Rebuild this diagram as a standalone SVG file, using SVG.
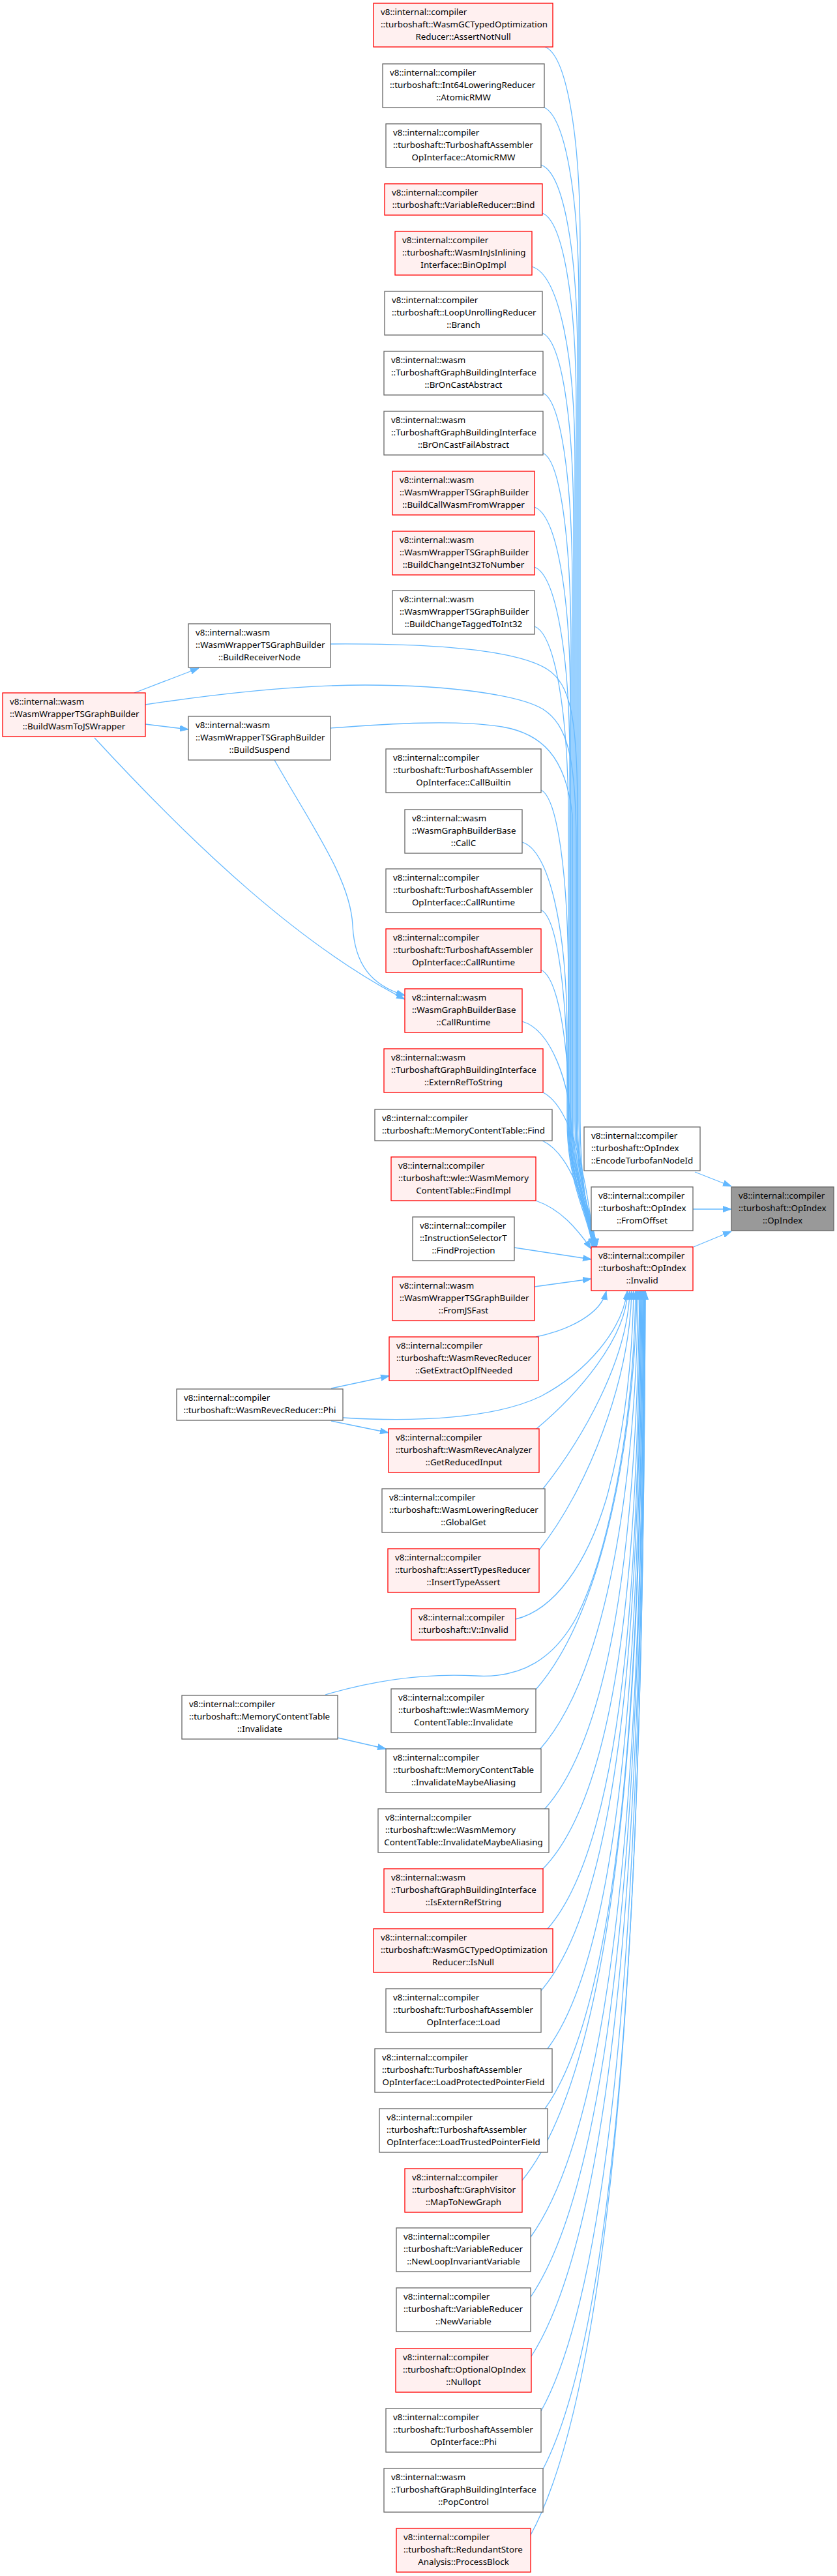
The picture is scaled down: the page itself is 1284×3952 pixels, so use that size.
<svg xmlns="http://www.w3.org/2000/svg" width="1284" height="3952" viewBox="0 0 1284 3952">
<style>
.w{fill:#ffffff;stroke:#666666;stroke-width:1.3}
.r{fill:#fff0f0;stroke:#ff0000;stroke-width:1.3}
.g{fill:#999999;stroke:#666666;stroke-width:1.3}
text{font-family:"Noto Sans","DejaVu Sans","Liberation Sans",sans-serif;font-size:13.33px;fill:#000}
.c{text-anchor:middle}
.e path{fill:none;stroke:#63b8ff;stroke-width:1.3;marker-end:url(#a)}
</style>
<defs>
<marker id="a" viewBox="0 0 13 10" refX="13" refY="5" markerWidth="13" markerHeight="10" markerUnits="userSpaceOnUse" orient="auto">
<path d="M0,0.5 L13,5 L0,9.5 z" fill="#63b8ff" stroke="#63b8ff" stroke-width="1"/>
</marker>
</defs>
<rect width="1284" height="3952" fill="#ffffff"/>
<g id="edges" class="e">
<path d="M1066,1798 L1122,1820"/>
<path d="M1063,1855 L1122,1855"/>
<path d="M1064,1913 L1122,1889"/>
<path d="M206,1063 L305,1025"/>
<path d="M223,1111 L289,1119"/>
<path d="M145,1132 C300,1300 460,1450 621,1533"/>
<path d="M421,1166 C480,1270 538,1350 541,1420 C544,1480 570,1512 621,1527"/>
<path d="M508,2130 L597,2111"/>
<path d="M508,2180 L596,2198"/>
<path d="M518,2666 L592,2683"/>
<path d="M836,72 C868,84 890,202 890,372 L890,1720 C890,1820 905,1870 909,1913"/>
<path d="M833,164 C866,176 888,294 888,464 L888,1720 C888,1820 907,1870 911,1913"/>
<path d="M830,253 C864,265 886,383 886,553 L886,1720 C886,1820 909,1870 913,1913"/>
<path d="M832,327 C863,339 884,457 884,627 L884,1720 C884,1820 911,1870 915,1913"/>
<path d="M816,409 C856,421 882,539 882,709 L882,1720 C882,1820 905,1870 909,1913"/>
<path d="M832,511 C861,523 880,641 880,811 L880,1720 C880,1820 907,1870 911,1913"/>
<path d="M833,603 C860,615 878,733 878,903 L878,1720 C878,1820 909,1870 913,1913"/>
<path d="M833,695 C859,707 876,825 876,995 L876,1720 C876,1820 911,1870 915,1913"/>
<path d="M820,778 C853,790 875,908 875,1078 L875,1720 C875,1820 905,1870 909,1913"/>
<path d="M820,870 C852,882 874,1000 874,1170 L874,1720 C874,1820 907,1870 911,1913"/>
<path d="M820,961 C851,973 872,1091 872,1261 L872,1720 C872,1820 909,1870 913,1913"/>
<path d="M507,988 C650,987 790,995 840,1027 C875,1050 886,1100 886,1250 L886,1720 C886,1820 905,1870 911,1913"/>
<path d="M223,1081 C350,1062 460,1051 560,1051 C700,1051 800,1068 833,1088 C870,1112 884,1160 884,1300 L884,1720 C884,1820 905,1870 909,1913"/>
<path d="M507,1117 C600,1110 700,1104 770,1115 C830,1125 868,1160 878,1250 L878,1720 C878,1820 910,1870 913,1913"/>
<path d="M830,1212 C855,1224 872,1342 872,1512 L872,1720 C872,1820 911,1870 915,1913"/>
<path d="M801,1292 C842,1304 870,1422 870,1592 L870,1720 C870,1820 905,1870 909,1913"/>
<path d="M830,1396 C855,1408 871,1526 871,1696 L871,1720 C871,1820 907,1870 911,1913"/>
<path d="M830,1488 C856,1500 873,1600 873,1720 C873,1820 909,1870 913,1913"/>
<path d="M801,1567 C845,1580 875,1660 877,1740 C879,1830 911,1870 915,1913"/>
<path d="M833,1676 C880,1700 902,1820 911,1913"/>
<path d="M832,1750 C875,1770 900,1850 909,1913"/>
<path d="M822,1842 C860,1855 885,1885 907,1916"/>
<path d="M789,1914 L907,1932"/>
<path d="M820,1974 L907,1962"/>
<path d="M822,2051 C875,2040 922,2015 930,1981"/>
<path d="M823,2192 C886,2139 960,2055 963,1981"/>
<path d="M526,2175 C640,2182 760,2176 830,2142 C900,2105 955,2040 962,1981"/>
<path d="M833,2284 C893,2208 963,2087 966,1981"/>
<path d="M827,2378 C901,2285 966,2120 969,1981"/>
<path d="M791,2484 C850,2470 900,2400 930,2300 C955,2210 970,2100 972,1981"/>
<path d="M499,2600 C560,2582 640,2566 730,2571 C800,2575 850,2545 885,2480 C930,2390 972,2200 975,1981"/>
<path d="M822,2592 C928,2471 974,2195 977,1981"/>
<path d="M828,2684 C942,2555 976,2227 979,1981"/>
<path d="M835,2776 C955,2643 978,2259 981,1981"/>
<path d="M832,2868 C966,2733 979,2291 982,1981"/>
<path d="M840,2959 C969,2812 980,2323 983,1981"/>
<path d="M830,3054 C969,2893 981,2357 984,1981"/>
<path d="M840,3143 C970,2969 982,2388 985,1981"/>
<path d="M836,3235 C971,3047 983,2420 986,1981"/>
<path d="M801,3345 C968,3140 984,2458 987,1981"/>
<path d="M814,3432 C971,3214 985,2489 988,1981"/>
<path d="M814,3524 C971,3293 985,2521 988,1981"/>
<path d="M815,3615 C972,3370 986,2553 989,1981"/>
<path d="M830,3699 C973,3441 986,2582 989,1981"/>
<path d="M833,3788 C974,3517 987,2613 990,1981"/>
<path d="M813,3891 C971,3604 987,2650 990,1981"/>
</g>
<g id="n_opindex"><rect class="g" x="1122" y="1821" width="157" height="67"/><text x="1133" y="1839">v8::internal::compiler</text><text x="1133" y="1858">::turboshaft::OpIndex</text><text class="c" x="1200.5" y="1877">::OpIndex</text></g>
<g id="n_encode"><rect class="w" x="896" y="1729" width="178" height="67"/><text x="907" y="1747">v8::internal::compiler</text><text x="907" y="1766">::turboshaft::OpIndex</text><text class="c" x="985" y="1785">::EncodeTurbofanNodeId</text></g>
<g id="n_fromoffset"><rect class="w" x="907" y="1821" width="156" height="67"/><text x="918" y="1839">v8::internal::compiler</text><text x="918" y="1858">::turboshaft::OpIndex</text><text class="c" x="985" y="1877">::FromOffset</text></g>
<g id="n_invalid"><rect class="r" x="907" y="1913" width="156" height="67"/><text x="918" y="1931">v8::internal::compiler</text><text x="918" y="1950">::turboshaft::OpIndex</text><text class="c" x="985" y="1969">::Invalid</text></g>
<g id="n_brn"><rect class="w" x="289" y="957" width="218" height="67"/><text x="300" y="975">v8::internal::wasm</text><text x="300" y="994">::WasmWrapperTSGraphBuilder</text><text class="c" x="398" y="1013">::BuildReceiverNode</text></g>
<g id="n_wtj"><rect class="r" x="4" y="1063" width="219" height="67"/><text x="15" y="1081">v8::internal::wasm</text><text x="15" y="1100">::WasmWrapperTSGraphBuilder</text><text class="c" x="113.5" y="1119">::BuildWasmToJSWrapper</text></g>
<g id="n_bs"><rect class="w" x="289" y="1099" width="218" height="67"/><text x="300" y="1117">v8::internal::wasm</text><text x="300" y="1136">::WasmWrapperTSGraphBuilder</text><text class="c" x="398" y="1155">::BuildSuspend</text></g>
<g id="n_revecphi"><rect class="w" x="271" y="2131" width="255" height="48"/><text x="282" y="2149">v8::internal::compiler</text><text class="c" x="398.5" y="2168">::turboshaft::WasmRevecReducer::Phi</text></g>
<g id="n_mctinv"><rect class="w" x="279" y="2601" width="239" height="67"/><text x="290" y="2619">v8::internal::compiler</text><text x="290" y="2638">::turboshaft::MemoryContentTable</text><text class="c" x="398.5" y="2657">::Invalidate</text></g>
<g id="n1"><rect class="r" x="573" y="5" width="275" height="67"/><text x="584" y="23">v8::internal::compiler</text><text x="584" y="42">::turboshaft::WasmGCTypedOptimization</text><text class="c" x="710.5" y="61">Reducer::AssertNotNull</text></g>
<g id="n2"><rect class="w" x="587" y="98" width="248" height="67"/><text x="598" y="116">v8::internal::compiler</text><text x="598" y="135">::turboshaft::Int64LoweringReducer</text><text class="c" x="711" y="154">::AtomicRMW</text></g>
<g id="n3"><rect class="w" x="592" y="190" width="238" height="67"/><text x="603" y="208">v8::internal::compiler</text><text x="603" y="227">::turboshaft::TurboshaftAssembler</text><text class="c" x="711" y="246">OpInterface::AtomicRMW</text></g>
<g id="n4"><rect class="r" x="590" y="282" width="242" height="48"/><text x="601" y="300">v8::internal::compiler</text><text class="c" x="711" y="319">::turboshaft::VariableReducer::Bind</text></g>
<g id="n5"><rect class="r" x="606" y="355" width="210" height="67"/><text x="617" y="373">v8::internal::compiler</text><text x="617" y="392">::turboshaft::WasmInJsInlining</text><text class="c" x="711" y="411">Interface::BinOpImpl</text></g>
<g id="n6"><rect class="w" x="590" y="447" width="242" height="67"/><text x="601" y="465">v8::internal::compiler</text><text x="601" y="484">::turboshaft::LoopUnrollingReducer</text><text class="c" x="711" y="503">::Branch</text></g>
<g id="n7"><rect class="w" x="589" y="539" width="244" height="67"/><text x="600" y="557">v8::internal::wasm</text><text x="600" y="576">::TurboshaftGraphBuildingInterface</text><text class="c" x="711" y="595">::BrOnCastAbstract</text></g>
<g id="n8"><rect class="w" x="589" y="631" width="244" height="67"/><text x="600" y="649">v8::internal::wasm</text><text x="600" y="668">::TurboshaftGraphBuildingInterface</text><text class="c" x="711" y="687">::BrOnCastFailAbstract</text></g>
<g id="n9"><rect class="r" x="602" y="723" width="218" height="67"/><text x="613" y="741">v8::internal::wasm</text><text x="613" y="760">::WasmWrapperTSGraphBuilder</text><text class="c" x="711" y="779">::BuildCallWasmFromWrapper</text></g>
<g id="n10"><rect class="r" x="602" y="815" width="218" height="67"/><text x="613" y="833">v8::internal::wasm</text><text x="613" y="852">::WasmWrapperTSGraphBuilder</text><text class="c" x="711" y="871">::BuildChangeInt32ToNumber</text></g>
<g id="n11"><rect class="w" x="602" y="906" width="218" height="67"/><text x="613" y="924">v8::internal::wasm</text><text x="613" y="943">::WasmWrapperTSGraphBuilder</text><text class="c" x="711" y="962">::BuildChangeTaggedToInt32</text></g>
<g id="n12"><rect class="w" x="592" y="1149" width="238" height="67"/><text x="603" y="1167">v8::internal::compiler</text><text x="603" y="1186">::turboshaft::TurboshaftAssembler</text><text class="c" x="711" y="1205">OpInterface::CallBuiltin</text></g>
<g id="n13"><rect class="w" x="621" y="1242" width="180" height="67"/><text x="632" y="1260">v8::internal::wasm</text><text x="632" y="1279">::WasmGraphBuilderBase</text><text class="c" x="711" y="1298">::CallC</text></g>
<g id="n14"><rect class="w" x="592" y="1333" width="238" height="67"/><text x="603" y="1351">v8::internal::compiler</text><text x="603" y="1370">::turboshaft::TurboshaftAssembler</text><text class="c" x="711" y="1389">OpInterface::CallRuntime</text></g>
<g id="n15"><rect class="r" x="592" y="1425" width="238" height="67"/><text x="603" y="1443">v8::internal::compiler</text><text x="603" y="1462">::turboshaft::TurboshaftAssembler</text><text class="c" x="711" y="1481">OpInterface::CallRuntime</text></g>
<g id="n16"><rect class="r" x="621" y="1517" width="180" height="67"/><text x="632" y="1535">v8::internal::wasm</text><text x="632" y="1554">::WasmGraphBuilderBase</text><text class="c" x="711" y="1573">::CallRuntime</text></g>
<g id="n17"><rect class="r" x="589" y="1609" width="244" height="67"/><text x="600" y="1627">v8::internal::wasm</text><text x="600" y="1646">::TurboshaftGraphBuildingInterface</text><text class="c" x="711" y="1665">::ExternRefToString</text></g>
<g id="n18"><rect class="w" x="575" y="1702" width="272" height="48"/><text x="586" y="1720">v8::internal::compiler</text><text class="c" x="711" y="1739">::turboshaft::MemoryContentTable::Find</text></g>
<g id="n19"><rect class="r" x="600" y="1775" width="222" height="67"/><text x="611" y="1793">v8::internal::compiler</text><text x="611" y="1812">::turboshaft::wle::WasmMemory</text><text class="c" x="711" y="1831">ContentTable::FindImpl</text></g>
<g id="n20"><rect class="w" x="633" y="1867" width="156" height="67"/><text x="644" y="1885">v8::internal::compiler</text><text x="644" y="1904">::InstructionSelectorT</text><text class="c" x="711" y="1923">::FindProjection</text></g>
<g id="n21"><rect class="r" x="602" y="1959" width="218" height="67"/><text x="613" y="1977">v8::internal::wasm</text><text x="613" y="1996">::WasmWrapperTSGraphBuilder</text><text class="c" x="711" y="2015">::FromJSFast</text></g>
<g id="n22"><rect class="r" x="597" y="2051" width="229" height="67"/><text x="608" y="2069">v8::internal::compiler</text><text x="608" y="2088">::turboshaft::WasmRevecReducer</text><text class="c" x="711.5" y="2107">::GetExtractOpIfNeeded</text></g>
<g id="n23"><rect class="r" x="596" y="2192" width="231" height="67"/><text x="607" y="2210">v8::internal::compiler</text><text x="607" y="2229">::turboshaft::WasmRevecAnalyzer</text><text class="c" x="711.5" y="2248">::GetReducedInput</text></g>
<g id="n24"><rect class="w" x="586" y="2284" width="250" height="67"/><text x="597" y="2302">v8::internal::compiler</text><text x="597" y="2321">::turboshaft::WasmLoweringReducer</text><text class="c" x="711" y="2340">::GlobalGet</text></g>
<g id="n25"><rect class="r" x="595" y="2376" width="232" height="67"/><text x="606" y="2394">v8::internal::compiler</text><text x="606" y="2413">::turboshaft::AssertTypesReducer</text><text class="c" x="711" y="2432">::InsertTypeAssert</text></g>
<g id="n26"><rect class="r" x="631" y="2468" width="160" height="48"/><text x="642" y="2486">v8::internal::compiler</text><text class="c" x="711" y="2505">::turboshaft::V::Invalid</text></g>
<g id="n27"><rect class="w" x="600" y="2591" width="222" height="67"/><text x="611" y="2609">v8::internal::compiler</text><text x="611" y="2628">::turboshaft::wle::WasmMemory</text><text class="c" x="711" y="2647">ContentTable::Invalidate</text></g>
<g id="n28"><rect class="w" x="592" y="2683" width="238" height="67"/><text x="603" y="2701">v8::internal::compiler</text><text x="603" y="2720">::turboshaft::MemoryContentTable</text><text class="c" x="711" y="2739">::InvalidateMaybeAliasing</text></g>
<g id="n29"><rect class="w" x="580" y="2775" width="262" height="67"/><text x="591" y="2793">v8::internal::compiler</text><text x="591" y="2812">::turboshaft::wle::WasmMemory</text><text class="c" x="711" y="2831">ContentTable::InvalidateMaybeAliasing</text></g>
<g id="n30"><rect class="r" x="589" y="2867" width="244" height="67"/><text x="600" y="2885">v8::internal::wasm</text><text x="600" y="2904">::TurboshaftGraphBuildingInterface</text><text class="c" x="711" y="2923">::IsExternRefString</text></g>
<g id="n31"><rect class="r" x="573" y="2959" width="275" height="67"/><text x="584" y="2977">v8::internal::compiler</text><text x="584" y="2996">::turboshaft::WasmGCTypedOptimization</text><text class="c" x="710.5" y="3015">Reducer::IsNull</text></g>
<g id="n32"><rect class="w" x="592" y="3051" width="238" height="67"/><text x="603" y="3069">v8::internal::compiler</text><text x="603" y="3088">::turboshaft::TurboshaftAssembler</text><text class="c" x="711" y="3107">OpInterface::Load</text></g>
<g id="n33"><rect class="w" x="575" y="3143" width="272" height="67"/><text x="586" y="3161">v8::internal::compiler</text><text x="586" y="3180">::turboshaft::TurboshaftAssembler</text><text class="c" x="711" y="3199">OpInterface::LoadProtectedPointerField</text></g>
<g id="n34"><rect class="w" x="582" y="3235" width="258" height="67"/><text x="593" y="3253">v8::internal::compiler</text><text x="593" y="3272">::turboshaft::TurboshaftAssembler</text><text class="c" x="711" y="3291">OpInterface::LoadTrustedPointerField</text></g>
<g id="n35"><rect class="r" x="621" y="3327" width="180" height="67"/><text x="632" y="3345">v8::internal::compiler</text><text x="632" y="3364">::turboshaft::GraphVisitor</text><text class="c" x="711" y="3383">::MapToNewGraph</text></g>
<g id="n36"><rect class="w" x="608" y="3418" width="206" height="67"/><text x="619" y="3436">v8::internal::compiler</text><text x="619" y="3455">::turboshaft::VariableReducer</text><text class="c" x="711" y="3474">::NewLoopInvariantVariable</text></g>
<g id="n37"><rect class="w" x="608" y="3510" width="206" height="67"/><text x="619" y="3528">v8::internal::compiler</text><text x="619" y="3547">::turboshaft::VariableReducer</text><text class="c" x="711" y="3566">::NewVariable</text></g>
<g id="n38"><rect class="r" x="607" y="3603" width="208" height="67"/><text x="618" y="3621">v8::internal::compiler</text><text x="618" y="3640">::turboshaft::OptionalOpIndex</text><text class="c" x="711" y="3659">::Nullopt</text></g>
<g id="n39"><rect class="w" x="592" y="3695" width="238" height="67"/><text x="603" y="3713">v8::internal::compiler</text><text x="603" y="3732">::turboshaft::TurboshaftAssembler</text><text class="c" x="711" y="3751">OpInterface::Phi</text></g>
<g id="n40"><rect class="w" x="589" y="3787" width="244" height="67"/><text x="600" y="3805">v8::internal::wasm</text><text x="600" y="3824">::TurboshaftGraphBuildingInterface</text><text class="c" x="711" y="3843">::PopControl</text></g>
<g id="n41"><rect class="r" x="608" y="3879" width="206" height="67"/><text x="619" y="3897">v8::internal::compiler</text><text x="619" y="3916">::turboshaft::RedundantStore</text><text class="c" x="711" y="3935">Analysis::ProcessBlock</text></g>
</svg>
